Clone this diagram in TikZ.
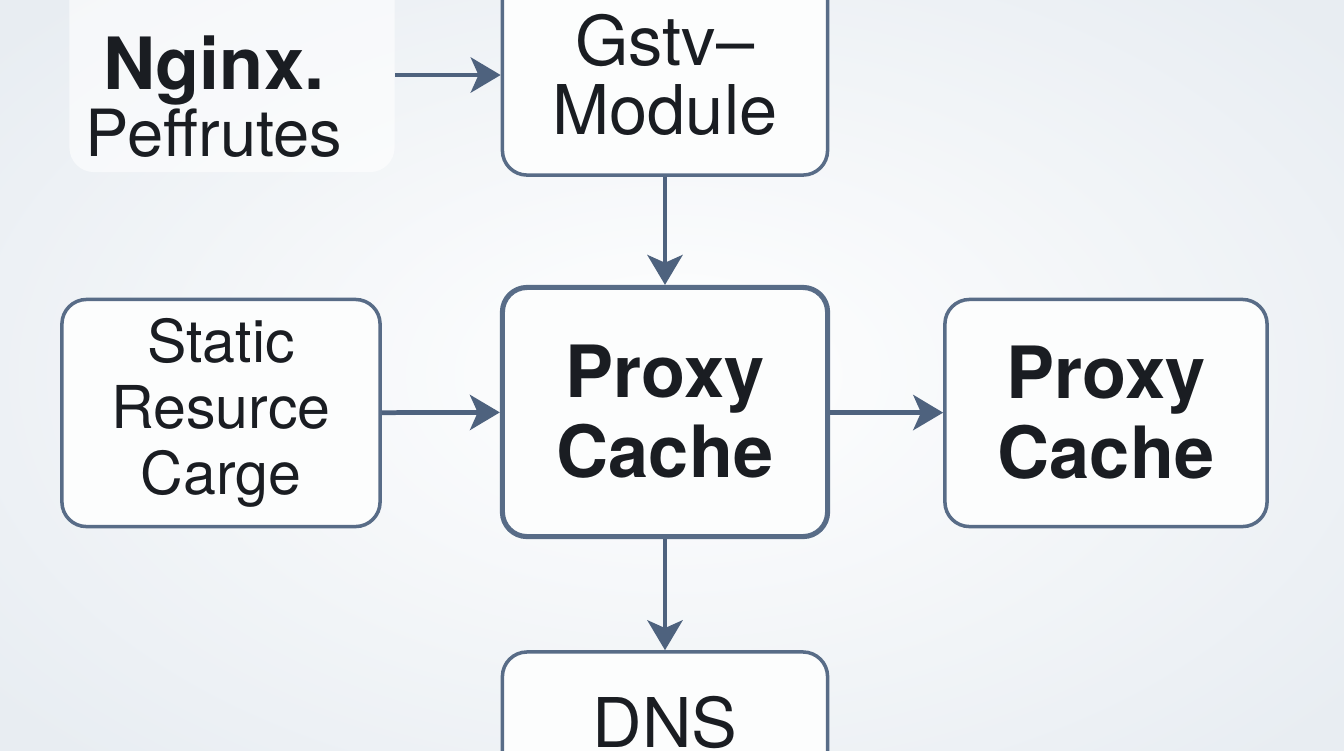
\documentclass[tikz,border=0pt]{standalone}
\usepackage{fontspec}
\setmainfont{TeX Gyre Heros}
\usetikzlibrary{positioning, arrows.meta}
\definecolor{edgeblue}{RGB}{88,108,135}
\definecolor{arrowblue}{RGB}{78,98,126}
\definecolor{inkdark}{RGB}{26,29,34}
\definecolor{paper}{RGB}{232,237,242}

\tikzset{
    box/.style={draw=edgeblue, line width=1pt, fill=white!70!paper!40!white, rounded corners=7pt,
        align=center, text=inkdark, inner sep=0pt},
    mainbox/.style={box, line width=1.45pt},
    ghost/.style={fill=white, fill opacity=0.6, rounded corners=7pt, minimum width=3.25cm, minimum height=2.6cm},
    arr/.style={-{Stealth[length=8.5pt, width=10pt, inset=2.2pt]}, draw=arrowblue, line width=1.35pt},
}

\begin{document}
\begin{tikzpicture}[x=0.01cm, y=-0.01cm]
    \clip (0,0) rectangle (1344,750);
    \shade[inner color=white, outer color=paper] (-200,-150) rectangle (1544,900);

    \node[ghost] (nginx) at (232,42) {};
    \node[align=center, text=inkdark] (nginxtxt) at (214,97)
        {\fontsize{20.5pt}{15.5pt}\selectfont\bfseries Nginx.\\[0pt]\fontsize{18.5pt}{15.5pt}\selectfont\mdseries Peffrutes};

    \node[box, minimum width=3.25cm, minimum height=2cm, font=\fontsize{19.5pt}{19.8pt}\selectfont] (gstv) at (665,75) {Gstv–\\Module};
    \node[mainbox, minimum width=3.25cm, minimum height=2.49cm, font=\fontsize{20.5pt}{22.7pt}\selectfont\bfseries] (proxy) at (665,412) {Proxy\\Cache};
    \node[box, minimum width=3.18cm, minimum height=2.27cm, font=\fontsize{16.8pt}{18.7pt}\selectfont] (static) at (221,413) {Static\\Resurce\\Carge};
    \node[box, minimum width=3.22cm, minimum height=2.27cm, font=\fontsize{20.5pt}{22.7pt}\selectfont\bfseries] (cache) at (1106,413) {Proxy\\Cache};
    \node[box, minimum width=3.25cm, minimum height=1.4cm, font=\fontsize{19.5pt}{19.8pt}\selectfont] (dns) at (665,722) {DNS};

    \draw[arr] (nginx.east |- gstv.west) -- (gstv.west);
    \draw[arr] (gstv) -- (proxy);
    \draw[arr] (static) -- (proxy);
    \draw[arr] (proxy) -- (cache);
    \draw[arr] (proxy) -- (dns);
\end{tikzpicture}
\end{document}
